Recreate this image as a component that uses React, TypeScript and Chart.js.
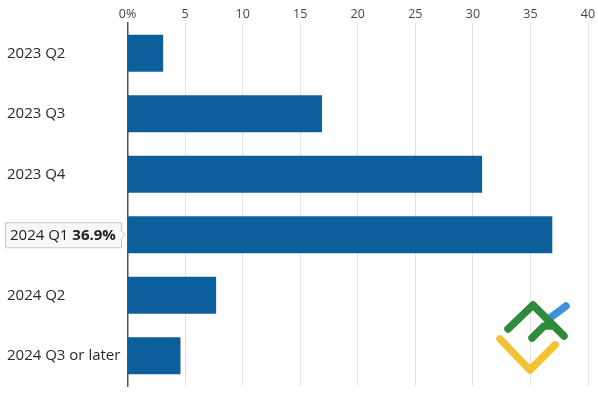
import React, { useEffect, useRef } from "react";
import { Chart, registerables } from "chart.js";

Chart.register(...registerables);

const categories = ["2023 Q2", "2023 Q3", "2023 Q4", "2024 Q1", "2024 Q2", "2024 Q3 or later"];
const values = [3.1, 16.9, 30.8, 36.9, 7.7, 4.6];
const xTicks = [0, 5, 10, 15, 20, 25, 30, 35, 40];
const highlightIndex = 3;
const highlightValueLabel = "36.9%";

const FONT = "'Open Sans', 'Noto Sans', sans-serif";

const overlayPlugin = {
  id: "overlay",
  afterDraw(chart: any) {
    const ctx = chart.ctx;
    const y = chart.scales.y.getPixelForValue(highlightIndex);
    const left = chart.chartArea.left;
    ctx.save();
    // callout box
    const bx = 5, bw = 116, bh = 25;
    const by = y - bh / 2;
    ctx.fillStyle = "#f7f7f7";
    ctx.strokeStyle = "#c8c8c8";
    ctx.lineWidth = 1;
    ctx.beginPath();
    ctx.moveTo(bx + 0.5, by + 0.5);
    ctx.lineTo(bx + bw + 0.5, by + 0.5);
    ctx.lineTo(bx + bw + 0.5, y - 4);
    ctx.lineTo(left - 2, y);
    ctx.lineTo(bx + bw + 0.5, y + 4);
    ctx.lineTo(bx + bw + 0.5, by + bh + 0.5);
    ctx.lineTo(bx + 0.5, by + bh + 0.5);
    ctx.closePath();
    ctx.fill();
    ctx.stroke();
    ctx.fillStyle = "#222";
    ctx.textBaseline = "middle";
    ctx.textAlign = "left";
    ctx.font = `15px ${FONT}`;
    const t1 = categories[highlightIndex] + " ";
    ctx.fillText(t1, 10, y + 1);
    const w1 = ctx.measureText(t1).width;
    ctx.font = `bold 15px ${FONT}`;
    ctx.fillText(highlightValueLabel, 10 + w1, y + 1);

    // watermark logo
    ctx.lineCap = "round";
    ctx.lineJoin = "round";
    ctx.lineWidth = 7.5;
    ctx.strokeStyle = "#3f8fdb";
    ctx.beginPath();
    ctx.moveTo(550, 318);
    ctx.lineTo(566, 306);
    ctx.stroke();
    ctx.strokeStyle = "#f1c232";
    ctx.beginPath();
    ctx.moveTo(500, 339);
    ctx.lineTo(530, 370);
    ctx.lineTo(555, 345);
    ctx.stroke();
    ctx.strokeStyle = "#2f8b3c";
    ctx.beginPath();
    ctx.moveTo(508, 329);
    ctx.lineTo(533, 305);
    ctx.lineTo(564, 336);
    ctx.stroke();
    ctx.beginPath();
    ctx.moveTo(532, 338);
    ctx.lineTo(544, 326);
    ctx.lineTo(553, 326);
    ctx.stroke();
    ctx.restore();
  },
};

export default function App() {
  const ref = useRef<HTMLCanvasElement>(null);
  useEffect(() => {
    document.body.style.margin = "0";
    const chart = new Chart(ref.current!, {
      type: "bar",
      data: {
        labels: categories,
        datasets: [
          {
            data: values,
            backgroundColor: "#0d5f9b",
            barPercentage: 0.61,
            categoryPercentage: 1,
          },
        ],
      },
      options: {
        indexAxis: "y",
        animation: false,
        responsive: false,
        layout: { padding: { left: 7, right: 10, top: 0, bottom: 11 } },
        plugins: { legend: { display: false }, tooltip: { enabled: false } },
        scales: {
          x: {
            position: "top",
            min: 0,
            max: 40,
            afterBuildTicks: (s: any) => {
              s.ticks = xTicks.map((v) => ({ value: v }));
            },
            afterFit: (s: any) => {
              s.height = 23;
            },
            grid: { color: "#e2e2e2", drawTicks: false, lineWidth: 1 },
            border: { display: false },
            ticks: {
              padding: 1,
              color: "#444",
              font: { family: FONT, size: 12.5 },
              callback: (v: any) => (v === 0 ? "0%" : String(v)),
            },
          },
          y: {
            afterFit: (s: any) => {
              s.width = 120.5;
            },
            grid: { display: false },
            border: { display: true, color: "#555", width: 1.5 },
            ticks: {
              crossAlign: "far",
              color: "#2a2a2a",
              font: { family: FONT, size: 15 },
              callback: (_v: any, i: number) => (i === highlightIndex ? "" : categories[i]),
            },
          },
        },
      },
      plugins: [overlayPlugin],
    });
    return () => chart.destroy();
  }, []);
  return (
    <div style={{ width: 598, height: 398, background: "#fff" }}>
      <canvas ref={ref} width={598} height={398} />
    </div>
  );
}
